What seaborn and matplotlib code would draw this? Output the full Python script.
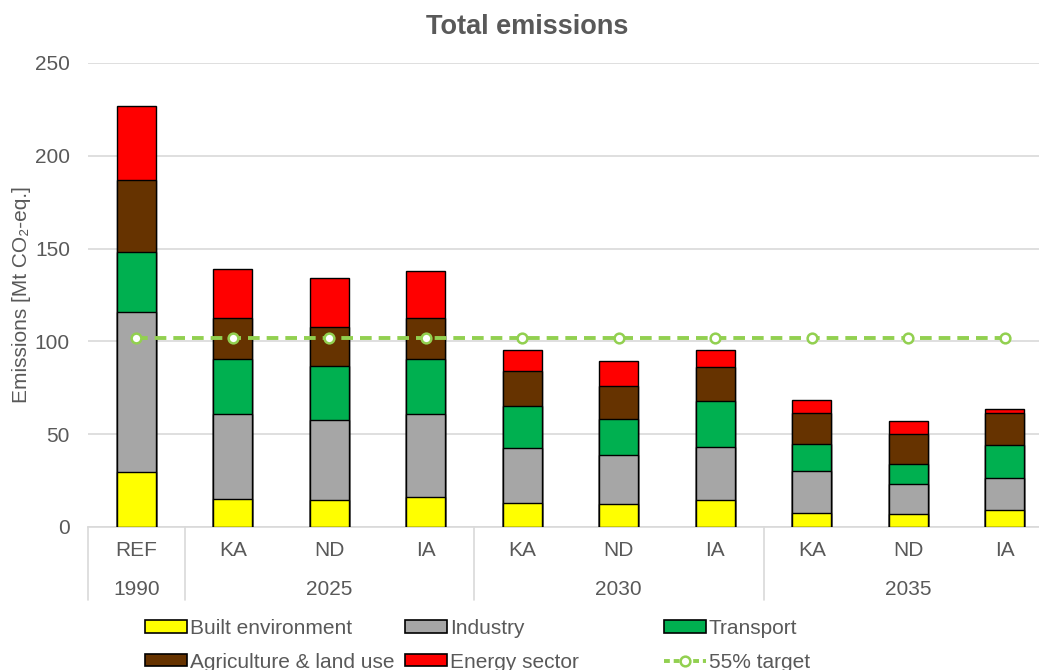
import numpy as np
import pandas as pd
import matplotlib.pyplot as plt
import matplotlib.transforms as mtransforms
from matplotlib.patches import Patch
from matplotlib.lines import Line2D
import seaborn as sns

# data (Mt CO2-eq.)
scenarios = ["REF", "KA", "ND", "IA", "KA", "ND", "IA", "KA", "ND", "IA"]
years = ["1990", "2025", "2025", "2025", "2030", "2030", "2030", "2035", "2035", "2035"]
year_groups = ["1990", "2025", "2030", "2035"]
built_env = [29.5, 15.1, 14.4, 16.3, 12.8, 12.2, 14.4, 7.4, 6.8, 9.0]
industry = [86.5, 45.9, 43.4, 44.4, 29.6, 26.8, 28.7, 23.0, 16.5, 17.6]
transport = [32.0, 29.5, 28.8, 29.8, 22.6, 19.0, 25.0, 14.2, 10.5, 17.8]
agriculture = [39.0, 22.1, 21.0, 21.9, 18.9, 18.1, 18.3, 16.8, 16.5, 16.9]
energy = [39.8, 26.2, 26.6, 25.5, 11.5, 13.3, 9.0, 7.2, 7.0, 2.4]
target_55 = [102] * 10

sectors = ["Built environment", "Industry", "Transport", "Agriculture & land use", "Energy sector"]
colors = ["#FFFF00", "#A6A6A6", "#00B050", "#663300", "#FF0000"]
target_color = "#92D050"
text_color = "#595959"
grid_color = "#D9D9D9"

sns.set_style("white")
plt.rcParams['font.family'] = ['Liberation Sans', 'DejaVu Sans']
plt.rcParams['text.color'] = text_color
FS = 15

df = pd.DataFrame({
    "bar": [f"{s} {y}" for s, y in zip(scenarios, years)],
    "Built environment": built_env,
    "Industry": industry,
    "Transport": transport,
    "Agriculture & land use": agriculture,
    "Energy sector": energy,
})
order = list(df["bar"])

# cumulative stacks, drawn from the top down so lower segments overlay
cum = df[sectors].cumsum(axis=1)

fig = plt.figure(figsize=(10.39, 6.70), dpi=100)
ax = fig.add_axes([88 / 1039, (670 - 527) / 670, (1039 - 88) / 1039, 464 / 670])

for sector, color in reversed(list(zip(sectors, colors))):
    sns.barplot(x=df["bar"], y=cum[sector], order=order, color=color,
                width=0.4, edgecolor="black", linewidth=1.0, saturation=1,
                ax=ax, zorder=3)

sns.lineplot(x=np.arange(len(target_55)), y=target_55, ax=ax, color=target_color,
             linewidth=2.8, linestyle=(0, (3, 1.8)), marker="o", markersize=7,
             markerfacecolor="white", markeredgecolor=target_color,
             markeredgewidth=1.8, zorder=5)

ax.set_ylim(0, 250)
ax.set_yticks(range(0, 251, 50))
ax.set_xlim(-0.5, (1039 - 88) / 96.5 - 0.5)
ax.yaxis.grid(True, color=grid_color, linewidth=1.2, zorder=0)
ax.set_axisbelow(True)
for side in ["top", "right", "left"]:
    ax.spines[side].set_visible(False)
ax.spines["bottom"].set_color(grid_color)
ax.spines["bottom"].set_linewidth(1.2)
ax.tick_params(axis="y", length=0, labelsize=FS, labelcolor=text_color, pad=13)
ax.set_xticks([])
ax.set_xlabel("")
ax.set_ylabel("Emissions [Mt CO₂-eq.]", fontsize=FS, color=text_color, labelpad=3)

# two-level category axis
trans = mtransforms.blended_transform_factory(ax.transData, ax.transAxes)
for i, s in enumerate(scenarios):
    ax.text(i, -0.05, s, transform=trans, ha="center", va="center", fontsize=FS)
group_spans = [(0, 0), (1, 3), (4, 6), (7, 9)]
for label, (a, b) in zip(year_groups, group_spans):
    ax.text((a + b) / 2, -0.134, label, transform=trans, ha="center", va="center", fontsize=FS)
for xs in [-0.5, 0.5, 3.5, 6.5, 9.5]:
    ax.plot([xs, xs], [0, -0.157], transform=trans, color=grid_color,
            linewidth=1.2, clip_on=False)

fig.text(527 / 1039, 1 - 27 / 670, "Total emissions", ha="center", va="center",
         fontsize=19.5, fontweight="heavy", color=text_color)

# legend, three columns placed like the original
patches = [Patch(facecolor=c, edgecolor="black", linewidth=1.2, label=s)
           for s, c in zip(sectors, colors)]
target_handle = Line2D([], [], color=target_color, linewidth=2.8, linestyle=(0, (1.5, 1)),
                       marker="o", markersize=7, markerfacecolor="white",
                       markeredgecolor=target_color, markeredgewidth=1.8, label="55% target")
columns = [([patches[0], patches[3]], 145), ([patches[1], patches[4]], 405),
           ([patches[2], target_handle], 664)]
for handles, x0 in columns:
    leg = fig.legend(handles=handles, loc="upper left", bbox_to_anchor=(x0 / 1039, 1 - 619 / 670),
                     frameon=False, fontsize=FS, ncol=1, handlelength=2.0, handleheight=0.55,
                     handletextpad=0.15, labelspacing=0.7, borderpad=0, borderaxespad=0)
    for t in leg.get_texts():
        t.set_color(text_color)

fig.savefig("out.png", dpi=100)
